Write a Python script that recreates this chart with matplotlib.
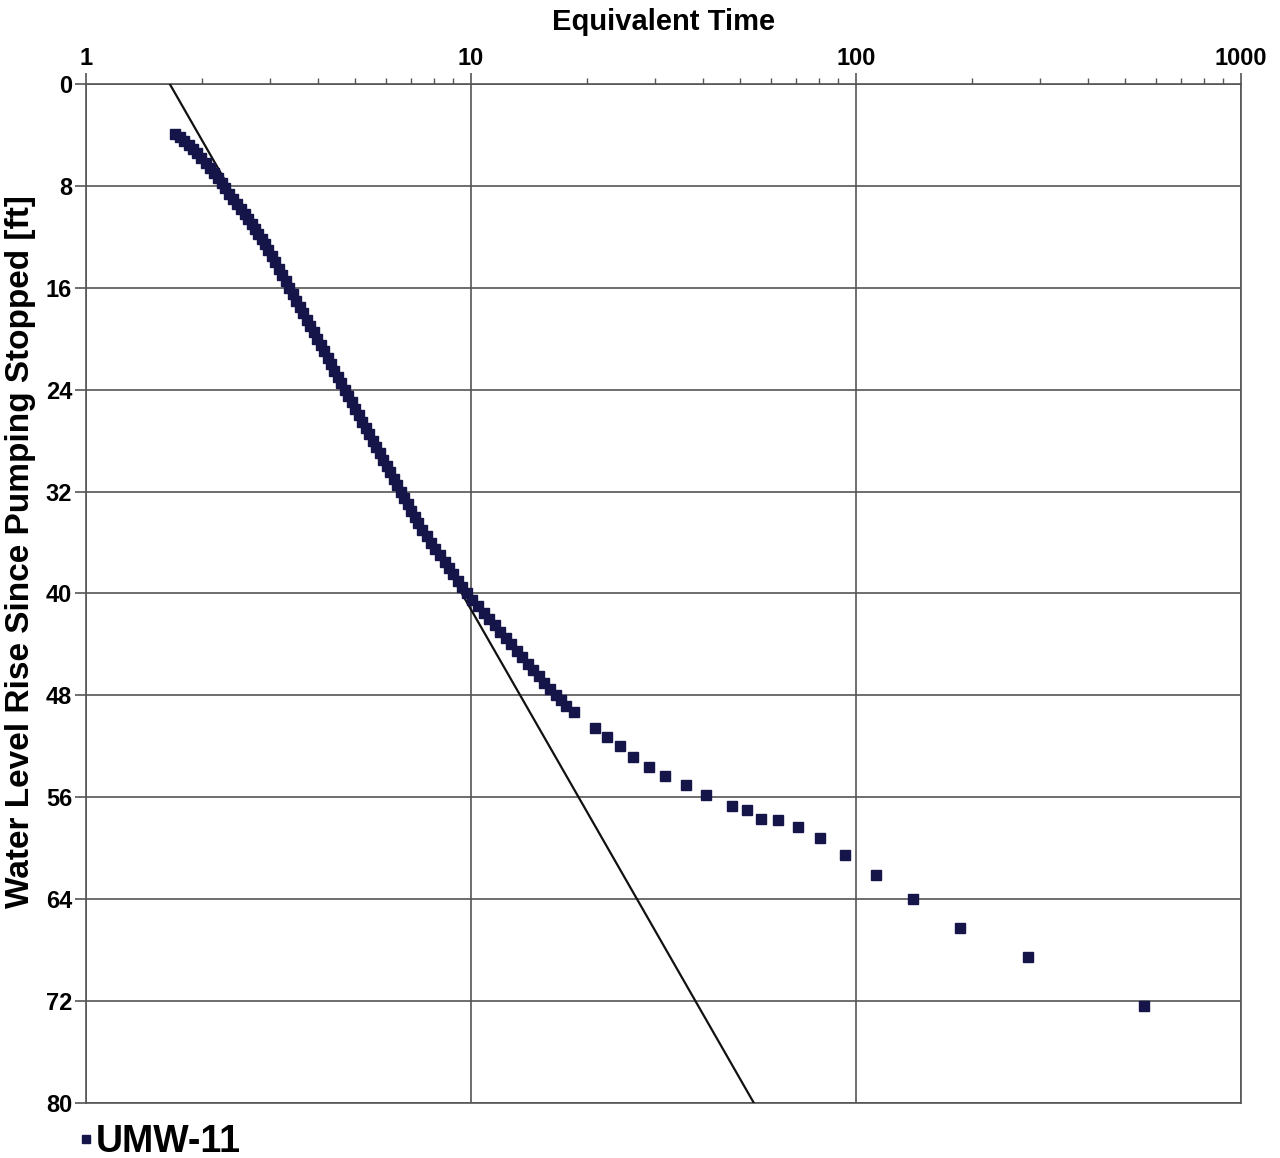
import matplotlib
matplotlib.use('Agg')
import matplotlib.pyplot as plt
from matplotlib.ticker import FixedLocator, NullFormatter, LogLocator
from matplotlib.lines import Line2D

# Recovery data for well UMW-11
equiv_time = [1.702, 1.750, 1.797, 1.846, 1.898, 1.945, 1.995, 2.046, 2.097, 2.149,
              2.199, 2.250, 2.301, 2.357, 2.411, 2.467, 2.523, 2.581, 2.637, 2.692,
              2.747, 2.804, 2.863, 2.922, 2.975, 3.037, 3.101, 3.167, 3.232, 3.300,
              3.370, 3.441, 3.514, 3.588, 3.664, 3.742, 3.819, 3.900, 3.983, 4.067,
              4.153, 4.241, 4.328, 4.419, 4.513, 4.608, 4.705, 4.804, 4.906, 5.010,
              5.112, 5.220, 5.331, 5.443, 5.559, 5.676, 5.793, 5.916, 6.041, 6.169,
              6.299, 6.432, 6.568, 6.703, 6.845, 6.990, 7.137, 7.288, 7.464, 7.668,
              7.877, 8.087, 8.308, 8.535, 8.768, 9.001, 9.247, 9.500, 9.752, 10.08,
              10.42, 10.78, 11.14, 11.52, 11.90, 12.31, 12.72, 13.15, 13.59, 14.05,
              14.52, 15.02, 15.52, 16.05, 16.59, 17.08, 17.69, 18.53,
              21.0, 22.6, 24.4, 26.4, 29.0, 32.0, 36.1, 40.9, 47.6, 52.0,
              56.7, 62.9, 70.7, 80.5, 93.9, 112.6, 140.5, 186.3, 280.5, 558.8]
rise = [3.9, 4.2, 4.5, 4.8, 5.1, 5.4, 5.8, 6.2, 6.6, 7.0,
        7.4, 7.8, 8.2, 8.6, 9.0, 9.4, 9.8, 10.2, 10.6, 11.0,
        11.4, 11.8, 12.2, 12.6, 13.0, 13.5, 14.0, 14.5, 15.0, 15.5,
        16.0, 16.5, 17.0, 17.5, 18.0, 18.5, 19.0, 19.5, 20.0, 20.5,
        21.0, 21.5, 22.0, 22.5, 23.0, 23.5, 24.0, 24.5, 25.0, 25.5,
        26.0, 26.5, 27.0, 27.5, 28.0, 28.5, 29.0, 29.5, 30.0, 30.5,
        31.0, 31.5, 32.0, 32.5, 33.0, 33.5, 34.0, 34.5, 35.0, 35.5,
        36.0, 36.5, 37.0, 37.5, 38.0, 38.5, 39.0, 39.5, 40.0, 40.5,
        41.0, 41.5, 42.0, 42.5, 43.0, 43.5, 44.0, 44.5, 45.0, 45.5,
        46.0, 46.5, 47.0, 47.5, 48.0, 48.4, 48.8, 49.3,
        50.6, 51.3, 52.0, 52.8, 53.6, 54.3, 55.0, 55.8, 56.7, 57.0,
        57.7, 57.8, 58.3, 59.2, 60.5, 62.1, 64.0, 66.3, 68.5, 72.4]

# straight-line fit drawn across the plot
fit_time = [1.65, 54.3]
fit_rise = [0, 80]

y_ticks = [0, 8, 16, 24, 32, 40, 48, 56, 64, 72, 80]
x_ticks = [1, 10, 100, 1000]

font = ['Liberation Sans Narrow', 'Liberation Sans', 'DejaVu Sans']
grid_col = '#555555'
pt_col = '#15154a'

fig = plt.figure(figsize=(12.8, 11.58), dpi=100)
ax = fig.add_axes([0.0672, 0.0475, 0.9023, 0.88])

ax.plot(fit_time, fit_rise, color='#111111', lw=1.6, zorder=3)
ax.plot(equiv_time, rise, ls='none', marker='s', ms=6.5, color=pt_col,
        mec=pt_col, zorder=4)

ax.set_xscale('log')
ax.set_xlim(1, 1000)
ax.set_ylim(80, 0)

ax.xaxis.set_ticks_position('top')
ax.xaxis.set_label_position('top')
ax.xaxis.set_major_locator(FixedLocator(x_ticks))
ax.set_xticklabels([str(t) for t in x_ticks], fontfamily=font,
                   fontweight='bold', fontsize=17)
ax.xaxis.set_minor_locator(LogLocator(base=10, subs=range(2, 10)))
ax.xaxis.set_minor_formatter(NullFormatter())
ax.set_yticks(y_ticks)
ax.set_yticklabels([str(t) for t in y_ticks], fontfamily=font,
                   fontweight='bold', fontsize=17)

ax.tick_params(which='major', length=8, width=1.2, color=grid_col, pad=2)
ax.tick_params(which='minor', length=4, width=1.0, color=grid_col)

ax.grid(True, which='major', color=grid_col, lw=1.2)
for s in ax.spines.values():
    s.set_color(grid_col)
    s.set_linewidth(1.2)

ax.set_xlabel('Equivalent Time', fontfamily=font, fontweight='bold',
              fontsize=21, labelpad=12)
ax.set_ylabel('Water Level Rise Since Pumping Stopped [ft]', fontfamily=font,
              fontweight='bold', fontsize=24)
ax.yaxis.set_label_coords(-0.043, 0.541)

handle = Line2D([], [], ls='none', marker='s', ms=6, color=pt_col)
fig.legend([handle], ['UMW-11'], loc='center left',
           bbox_to_anchor=(0.062, 0.014), frameon=False, borderpad=0,
           borderaxespad=0, handlelength=0.35, handletextpad=0.1,
           prop={'family': font, 'weight': 'bold', 'size': 27})

fig.savefig('out.png', dpi=100)
